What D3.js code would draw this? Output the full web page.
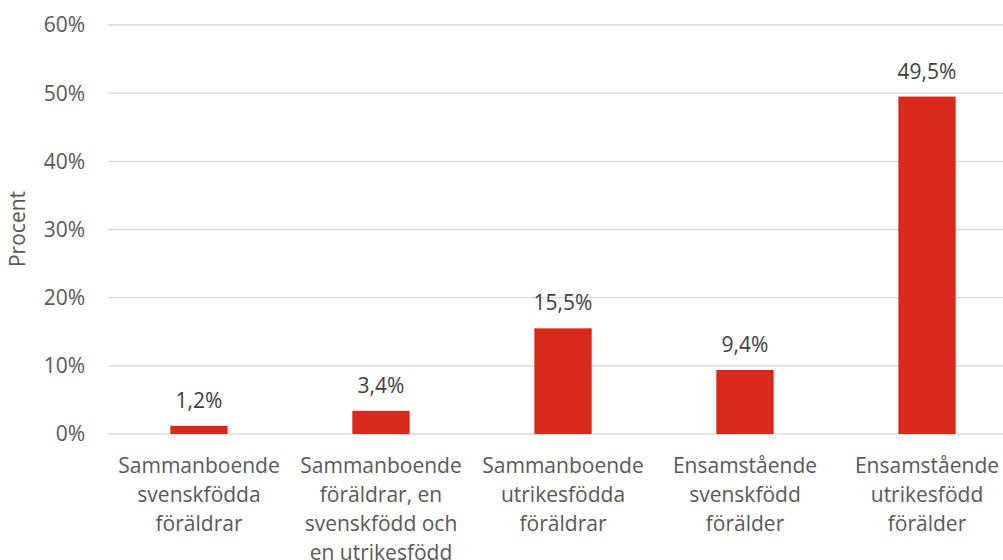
<!DOCTYPE html>
<html>
<head>
<meta charset="utf-8">
<script src="https://cdn.jsdelivr.net/npm/d3@7.9.0/dist/d3.min.js"></script>
<style>
  body { margin: 0; background: #fff; }
  svg { display: block; font-family: "Open Sans", sans-serif; }
</style>
</head>
<body>
<svg id="chart" width="1003" height="560"></svg>
<script>
// Category labels, already split into lines like the original
const categories = [
  ["Sammanboende", "svenskfödda", "föräldrar"],
  ["Sammanboende", "föräldrar, en", "svenskfödd och", "en utrikesfödd"],
  ["Sammanboende", "utrikesfödda", "föräldrar"],
  ["Ensamstående", "svenskfödd", "förälder"],
  ["Ensamstående", "utrikesfödd", "förälder"]
];
const values = [1.2, 3.4, 15.5, 9.4, 49.5];
const yTicks = [0, 10, 20, 30, 40, 50, 60];

const svg = d3.select("#chart");
const margin = { left: 108, right: -15, top: 25, bottom: 126 };
const width = 1003, height = 560;

const x = d3.scaleBand()
  .domain(d3.range(values.length))
  .range([margin.left, width - margin.right])
  .paddingInner(0.685)
  .paddingOuter(0.3425);

const y = d3.scaleLinear()
  .domain([0, 60])
  .range([height - margin.bottom, margin.top]);

const fmt = v => v.toFixed(1).replace(".", ",") + "%";

// gridlines
svg.append("g")
  .selectAll("line")
  .data(yTicks)
  .join("line")
  .attr("x1", margin.left)
  .attr("x2", width - margin.right)
  .attr("y1", d => y(d))
  .attr("y2", d => y(d))
  .attr("stroke", "#d9d9d9")
  .attr("stroke-width", 1.3);

// y tick labels
svg.append("g")
  .selectAll("text")
  .data(yTicks)
  .join("text")
  .attr("x", 85)
  .attr("y", d => y(d))
  .attr("dy", "0.35em")
  .attr("text-anchor", "end")
  .attr("fill", "#595959")
  .style("font-size", "21px")
  .text(d => d + "%");

// y axis title
svg.append("text")
  .attr("transform", "translate(25,229) rotate(-90)")
  .attr("text-anchor", "middle")
  .attr("fill", "#595959")
  .style("font-size", "21px")
  .text("Procent");

// bars
svg.append("g")
  .selectAll("rect")
  .data(values)
  .join("rect")
  .attr("x", (d, i) => x(i))
  .attr("width", x.bandwidth())
  .attr("y", d => y(d))
  .attr("height", d => y(0) - y(d))
  .attr("fill", "#d9291c");

// data labels
svg.append("g")
  .selectAll("text")
  .data(values)
  .join("text")
  .attr("x", (d, i) => x(i) + x.bandwidth() / 2)
  .attr("y", d => y(d) - 18)
  .attr("text-anchor", "middle")
  .attr("fill", "#404040")
  .style("font-size", "21px")
  .text(d => fmt(d));

// category labels
const cat = svg.append("g")
  .selectAll("text")
  .data(categories)
  .join("text")
  .attr("x", (d, i) => x(i) + x.bandwidth() / 2)
  .attr("y", 473)
  .attr("text-anchor", "middle")
  .attr("fill", "#595959")
  .style("font-size", "21px");

cat.selectAll("tspan")
  .data((d, i) => d.map(t => ({ t, i })))
  .join("tspan")
  .attr("x", d => x(d.i) + x.bandwidth() / 2)
  .attr("dy", (d, j) => j === 0 ? 0 : 29)
  .text(d => d.t);
</script>
</body>
</html>
